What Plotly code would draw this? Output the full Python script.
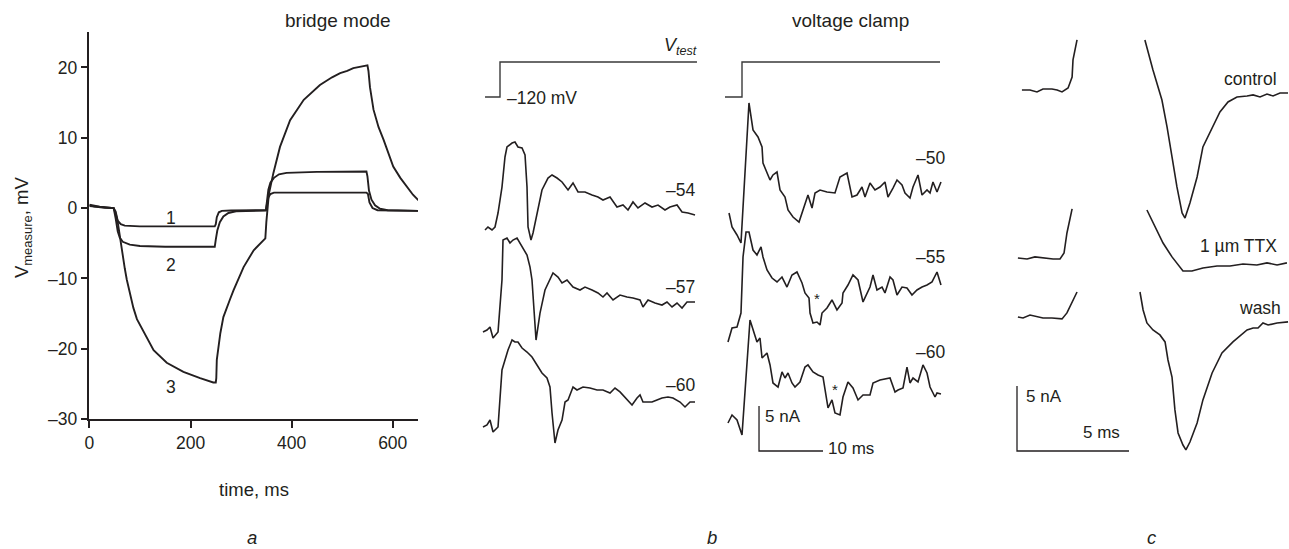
import plotly.graph_objects as go

W, H = 1289, 549
INK = "#231f20"
FONT = "Liberation Sans, Arial, Helvetica, sans-serif"

# ---------------- panel a : bridge mode (time ms, V mV) ----------------
a_t1 = [0, 10, 30, 48, 52, 56, 62, 70, 100, 248, 250, 252, 256, 262, 280, 349, 351, 354, 358, 365, 548, 551, 554, 560, 570, 650]
a_v1 = [0.4, 0.2, 0.05, 0.0, -0.8, -1.8, -2.3, -2.5, -2.6, -2.6, -2.3, -1.3, -0.6, -0.4, -0.35, -0.3, 0.5, 1.5, 2.0, 2.2, 2.2, 2.0, 0.8, 0.0, -0.3, -0.4]
a_t2 = [0, 48, 52, 56, 60, 66, 80, 100, 150, 248, 250, 253, 258, 265, 275, 290, 349, 351, 354, 358, 365, 375, 390, 450, 548, 550, 553, 558, 565, 575, 590, 650]
a_v2 = [0.3, 0.0, -1.5, -3.3, -4.2, -4.8, -5.2, -5.4, -5.5, -5.5, -4.5, -3.2, -2.0, -1.2, -0.7, -0.45, -0.35, 1.0, 2.6, 3.6, 4.3, 4.8, 5.0, 5.15, 5.2, 4.5, 2.5, 1.2, 0.4, -0.1, -0.3, -0.4]
a_t3 = [0, 20, 48, 52, 55, 58, 61, 66, 70, 74, 80, 87, 94, 109, 127, 153, 186, 219, 245, 250, 251, 252, 255, 259, 265, 272, 278, 285, 305, 325, 340, 348, 350, 352, 355, 364, 377, 397, 424, 456, 480, 496, 510, 522, 540, 550, 552, 555, 562, 572, 582, 601, 615, 628, 640, 651]
a_v3 = [0.5, 0.2, 0.0, -0.5, -1.5, -3.0, -4.5, -7.0, -8.6, -10.2, -12.0, -14.2, -15.8, -17.8, -20.2, -22.0, -23.3, -24.2, -24.8, -24.8, -24.2, -21.6, -20.0, -17.8, -15.5, -14.0, -13.0, -11.7, -8.4, -6.0, -4.9, -4.3, -2.0, -0.3, 2.0, 5.0, 8.7, 12.5, 15.4, 17.5, 18.6, 19.2, 19.5, 19.9, 20.2, 20.3, 19.5, 17.2, 14.0, 11.5, 9.7, 5.9, 4.3, 3.0, 1.9, 1.1]
a_xticks = [0, 200, 400, 600]
a_yticks = [-30, -20, -10, 0, 10, 20]
a_curve_labels = ["1", "2", "3"]
a_label_t = [162, 162, 162]
a_label_v = [-1.4, -8.1, -25.5]

# ---------------- panel b : traces (time ms from step, current nA) ----------------
b_step_t_left = [-2.34, 0, 0, 30.78]
b_step_t_right = [-2.66, 0, 0, 30.94]
b_step_level = [0, 0, 1, 1]

bL54_t = [-2.34, -1.88, -1.25, -0.78, -0.31, 0.31, 0.78, 1.09, 1.88, 2.34, 2.81, 3.44, 3.91, 4.22, 4.38, 4.84, 5.16, 5.78, 6.56, 7.5, 8.13, 8.91, 9.69, 10.63, 11.41, 12.19, 13.28, 14.38, 15.31, 16.09, 17.19, 18.28, 19.22, 20.0, 20.78, 21.56, 22.66, 23.75, 24.69, 25.78, 26.56, 27.66, 28.44, 29.38, 30.47]
bL54_i = [-0.44, -0.11, -0.44, -0.11, 1.44, 4.33, 7.67, 8.78, 9.22, 9.33, 8.78, 8.67, 7.89, 4.33, -0.11, -1.56, -0.78, 1.44, 4.0, 5.33, 5.67, 5.33, 4.89, 4.0, 4.78, 3.78, 3.78, 3.44, 3.22, 2.89, 3.22, 2.11, 2.33, 1.78, 2.67, 2.0, 2.56, 2.11, 2.33, 1.78, 2.11, 2.33, 1.56, 1.44, 1.22]
bL57_t = [-2.66, -2.03, -1.56, -1.09, -0.31, 0.31, 0.47, 1.09, 1.56, 2.03, 2.66, 3.44, 4.22, 4.69, 5.0, 5.63, 6.25, 7.03, 7.81, 8.28, 9.06, 9.69, 10.47, 11.41, 12.5, 13.28, 14.38, 15.31, 16.09, 16.72, 17.66, 18.75, 19.84, 20.78, 21.88, 22.34, 23.13, 24.22, 25.31, 26.09, 26.88, 27.66, 28.44, 29.22, 30.47]
bL57_i = [0.22, 0.44, 0.78, -0.44, 0.22, 6.0, 10.44, 10.67, 10.11, 10.44, 10.67, 9.67, 8.78, 7.44, 6.0, -0.67, 2.33, 4.89, 6.0, 6.78, 6.33, 5.67, 6.0, 5.22, 4.89, 5.22, 4.89, 4.56, 4.11, 4.56, 3.78, 4.33, 4.11, 4.0, 3.78, 3.0, 3.78, 3.44, 3.22, 3.56, 3.0, 3.44, 2.89, 3.56, 3.56]
bL60_t = [-2.66, -2.03, -1.56, -1.09, -0.31, 0.31, 0.78, 1.25, 1.88, 2.34, 2.81, 3.44, 4.22, 5.0, 5.78, 6.56, 7.34, 7.81, 8.13, 8.59, 9.06, 9.69, 10.16, 10.63, 11.41, 12.03, 12.97, 14.06, 15.16, 16.09, 17.19, 17.97, 18.75, 19.53, 20.63, 21.41, 21.88, 22.34, 23.75, 24.53, 25.31, 26.25, 27.03, 28.13, 28.91, 29.69, 30.47]
bL60_i = [-0.33, -0.11, 0.44, -0.89, -0.33, 6.0, 7.11, 8.22, 9.33, 9.11, 9.11, 8.44, 8.0, 7.44, 6.56, 5.67, 5.11, 4.11, 1.22, -2.11, -0.67, 0.44, 2.44, 2.67, 4.11, 3.78, 4.11, 4.0, 3.78, 3.78, 3.44, 4.0, 3.56, 3.0, 2.11, 2.89, 3.22, 2.44, 2.44, 2.67, 2.89, 3.0, 2.89, 2.44, 1.89, 2.44, 2.44]

bR50_t = [-2.03, -1.56, -0.78, -0.16, 1.09, 1.72, 2.5, 3.13, 3.28, 3.91, 4.38, 4.84, 5.47, 5.94, 6.72, 7.19, 7.97, 8.91, 9.53, 10.31, 10.94, 11.41, 12.19, 13.28, 14.53, 15.31, 16.41, 17.19, 17.97, 18.75, 19.22, 20.0, 20.78, 21.56, 22.34, 22.81, 23.59, 24.22, 25.0, 25.47, 26.25, 26.72, 27.5, 28.13, 28.91, 29.38, 29.84, 30.47, 31.09]
bR50_i = [0.44, -1.11, -2.0, -2.89, 12.67, 9.67, 8.89, 7.78, 6.0, 4.89, 4.11, 4.67, 5.0, 3.0, 2.22, 0.78, 0.0, -0.56, 0.78, 2.44, 1.0, 2.67, 3.0, 2.78, 2.67, 4.44, 4.89, 2.22, 2.44, 3.33, 2.22, 3.78, 3.0, 3.33, 3.89, 2.22, 3.22, 4.11, 3.56, 2.67, 2.11, 3.33, 4.67, 2.44, 3.0, 2.67, 3.89, 2.78, 3.89]
bR55_t = [-2.19, -1.56, -0.78, -0.16, 0.16, 0.63, 1.09, 1.72, 2.34, 2.97, 3.28, 3.91, 4.69, 5.47, 6.25, 7.03, 7.81, 8.59, 9.38, 9.84, 10.47, 10.63, 11.09, 11.72, 12.19, 12.5, 13.28, 14.06, 14.84, 15.63, 15.78, 16.56, 17.34, 18.13, 18.91, 19.53, 20.0, 20.47, 21.09, 21.88, 22.34, 23.13, 23.59, 24.22, 25.0, 25.78, 26.56, 27.34, 28.13, 28.91, 29.69, 30.47, 31.09]
bR55_i = [-1.89, -0.33, -0.22, 1.33, 7.56, 10.33, 10.33, 8.33, 7.78, 8.67, 7.56, 6.11, 5.22, 4.78, 5.33, 4.22, 5.56, 5.89, 4.67, 3.56, 3.0, 1.33, 0.22, 0.33, 0.0, 1.33, 1.89, 2.78, 1.67, 2.44, 3.56, 4.44, 5.56, 5.0, 2.56, 3.56, 4.22, 5.56, 3.89, 4.22, 3.56, 5.33, 5.0, 3.33, 4.22, 4.11, 3.33, 3.89, 4.22, 4.44, 4.78, 5.89, 4.44]
bR60_t = [-2.19, -1.56, -0.78, 0.0, 1.25, 1.72, 2.34, 2.81, 3.13, 3.91, 4.38, 4.84, 5.63, 6.25, 6.72, 7.19, 7.81, 8.28, 9.06, 9.84, 10.31, 11.09, 11.88, 12.66, 13.44, 14.06, 14.53, 15.31, 15.78, 16.56, 17.34, 18.13, 18.91, 20.0, 20.47, 21.56, 23.13, 23.91, 24.38, 25.16, 25.78, 26.25, 26.72, 27.5, 28.28, 28.91, 29.38, 30.16, 30.47, 31.09]
bR60_i = [-0.89, 0.0, -0.56, -2.22, 10.56, 9.44, 8.11, 8.56, 6.33, 6.89, 5.56, 3.56, 3.11, 4.78, 4.11, 4.67, 3.56, 3.11, 3.67, 5.33, 5.56, 4.78, 4.44, 4.22, 0.78, 1.67, 0.22, 0.0, 2.0, 3.67, 3.0, 1.67, 2.22, 2.22, 3.56, 3.89, 4.11, 2.56, 2.78, 3.0, 5.33, 3.56, 4.11, 3.67, 5.56, 4.67, 3.11, 2.0, 2.44, 2.33]

b_left_labels = ["\u201354", "\u201357", "\u201360"]
b_right_labels = ["\u201350", "\u201355", "\u201360"]

# ---------------- panel c : TTX (time ms, current nA) ----------------
cC_t1 = [0.22, 0.58, 0.89, 1.16, 1.56, 1.79, 2.01, 2.28, 2.46, 2.5, 2.68]
cC_i1 = [0, 0, -0.15, 0.08, 0.08, 0, -0.15, 0.15, 1.0, 2.31, 3.85]
cC_t2 = [5.71, 6.07, 6.47, 6.70, 6.92, 7.14, 7.37, 7.5, 7.72, 8.04, 8.30, 8.71, 9.06, 9.42, 9.82, 10.27, 10.54, 10.85, 11.16, 11.43, 11.74, 12.1]
cC_i2 = [3.85, 1.54, -0.77, -2.85, -5.15, -7.46, -9.46, -9.85, -8.69, -6.69, -4.38, -2.92, -1.69, -0.92, -0.54, -0.46, -0.38, -0.54, -0.31, -0.46, -0.23, -0.23]
cT_t1 = [0.04, 0.45, 0.80, 1.16, 1.61, 1.92, 2.10, 2.23, 2.46]
cT_i1 = [0, -0.08, 0.08, 0, -0.08, -0.08, 0.38, 1.92, 3.77]
cT_t2 = [5.80, 6.16, 6.52, 6.92, 7.28, 7.41, 7.81, 8.30, 8.93, 9.51, 10.09, 10.71, 11.16, 11.61, 12.05]
cT_i2 = [3.69, 2.38, 1.15, 0.08, -0.69, -1.0, -1.0, -0.77, -0.62, -0.62, -0.46, -0.54, -0.38, -0.54, -0.38]
cW_t1 = [0.04, 0.27, 0.58, 0.94, 1.16, 1.56, 2.01, 2.23, 2.5, 2.68]
cW_i1 = [0, -0.08, 0.15, 0, -0.08, -0.08, -0.15, 0.31, 1.31, 1.92]
cW_t2 = [5.49, 5.63, 5.80, 6.07, 6.38, 6.61, 6.74, 6.92, 7.05, 7.19, 7.41, 7.54, 7.72, 8.04, 8.30, 8.71, 9.15, 9.64, 10.27, 10.54, 10.76, 10.98, 11.21, 11.61, 12.1]
cW_i2 = [1.92, 0.54, -0.46, -1.0, -1.38, -1.92, -3.31, -4.62, -7.15, -8.92, -9.85, -10.23, -9.62, -8.15, -6.38, -4.31, -2.77, -1.92, -1.0, -0.85, -0.85, -0.46, -0.62, -0.46, -0.38]
c_labels = ["control", "1 \u00b5m TTX", "wash"]

# ---------------- layout constants (positions only) ----------------
def px_x(x):
    return x / W

def px_y(y):
    return 1 - y / H

# panel b stacking offsets (nA) and scale
bL_off = [25.0, 13.0, 3.0]
bR_off = [26.0, 14.0, 4.0]
b_step_base, b_step_h = 39.33, 3.89
c_off = [27.77, 14.85, 10.31]

fig = go.Figure()
line_a = dict(color=INK, width=1.9)
for t, v in [(a_t1, a_v1), (a_t2, a_v2), (a_t3, a_v3)]:
    fig.add_trace(go.Scatter(x=t, y=v, mode="lines", line=line_a, xaxis="x", yaxis="y", showlegend=False, hoverinfo="skip"))

line_b = dict(color=INK, width=1.6)
step_line = dict(color="#3a3a3a", width=1.4)
fig.add_trace(go.Scatter(x=b_step_t_left, y=[b_step_base + b_step_h * l for l in b_step_level], mode="lines", line=step_line, xaxis="x2", yaxis="y2", showlegend=False))
fig.add_trace(go.Scatter(x=b_step_t_right, y=[b_step_base + b_step_h * l for l in b_step_level], mode="lines", line=step_line, xaxis="x3", yaxis="y3", showlegend=False))
for (t, i), off in zip([(bL54_t, bL54_i), (bL57_t, bL57_i), (bL60_t, bL60_i)], bL_off):
    fig.add_trace(go.Scatter(x=t, y=[v + off for v in i], mode="lines", line=line_b, xaxis="x2", yaxis="y2", showlegend=False))
for (t, i), off in zip([(bR50_t, bR50_i), (bR55_t, bR55_i), (bR60_t, bR60_i)], bR_off):
    fig.add_trace(go.Scatter(x=t, y=[v + off for v in i], mode="lines", line=line_b, xaxis="x3", yaxis="y3", showlegend=False))
# b scale bar: 10 ms x 5 nA
fig.add_trace(go.Scatter(x=[2.66 + 10, 2.66, 2.66], y=[0, 0, 5], mode="lines", line=dict(color=INK, width=1.3), xaxis="x3", yaxis="y3", showlegend=False))

for segs, off in zip([[(cC_t1, cC_i1), (cC_t2, cC_i2)], [(cT_t1, cT_i1), (cT_t2, cT_i2)], [(cW_t1, cW_i1), (cW_t2, cW_i2)]], c_off):
    for t, i in segs:
        fig.add_trace(go.Scatter(x=t, y=[v + off for v in i], mode="lines", line=line_b, xaxis="x4", yaxis="y4", showlegend=False))
# c scale bar: 5 ms x 5 nA
fig.add_trace(go.Scatter(x=[5, 0, 0], y=[0, 0, 5], mode="lines", line=dict(color=INK, width=1.3), xaxis="x4", yaxis="y4", showlegend=False))

hidden = dict(visible=False, showgrid=False, zeroline=False)
fig.update_layout(
    width=W, height=H, autosize=False,
    margin=dict(l=0, r=0, t=0, b=0, pad=0, autoexpand=False),
    paper_bgcolor="white", plot_bgcolor="rgba(0,0,0,0)",
    font=dict(family=FONT, size=18, color=INK),
    showlegend=False,
    xaxis=dict(domain=[px_x(89.4), px_x(418)], range=[0, 650], tickvals=a_xticks,
               showline=True, linecolor=INK, linewidth=1.5, ticks="outside", ticklen=7, tickwidth=1.5, tickcolor=INK,
               showgrid=False, zeroline=False, tickfont=dict(size=17.5), anchor="y", automargin=False),
    yaxis=dict(domain=[px_y(419), px_y(32.3)], range=[-30, 25], tickvals=a_yticks,
               ticktext=[("\u2013" + str(-v)) if v < 0 else str(v) for v in a_yticks],
               showline=True, linecolor=INK, linewidth=1.5, ticks="outside", ticklen=7, tickwidth=1.5, tickcolor=INK,
               showgrid=False, zeroline=False, tickfont=dict(size=17.5), anchor="x", automargin=False),
    xaxis2=dict(domain=[px_x(475), px_x(705)], range=[(475 - 500) / 6.4, (705 - 500) / 6.4], anchor="y2", **hidden),
    yaxis2=dict(domain=[0, 1], range=[(451 - 549) / 9, 451 / 9], anchor="x2", **hidden),
    xaxis3=dict(domain=[px_x(715), px_x(950)], range=[(715 - 742) / 6.4, (950 - 742) / 6.4], anchor="y3", **hidden),
    yaxis3=dict(domain=[0, 1], range=[(451 - 549) / 9, 451 / 9], anchor="x3", **hidden),
    xaxis4=dict(domain=[px_x(1000), 1.0], range=[(1000 - 1017) / 22.4, (1289 - 1017) / 22.4], anchor="y4", **hidden),
    yaxis4=dict(domain=[0, 1], range=[(451 - 549) / 13, 451 / 13], anchor="x4", **hidden),
)

ann = []
def paper_text(text, x, y, size=18, xanchor="center", italic=False, angle=0):
    ann.append(dict(text=f"<i>{text}</i>" if italic else text, x=px_x(x), y=px_y(y), xref="paper", yref="paper",
                    xanchor=xanchor, yanchor="middle", showarrow=False, borderpad=0,
                    font=dict(size=size, color=INK), textangle=angle))

def data_text(text, x, y, xr, yr, size=18, xanchor="center"):
    ann.append(dict(text=text, x=x, y=y, xref=xr, yref=yr, xanchor=xanchor, yanchor="middle",
                    showarrow=False, borderpad=0, font=dict(size=size, color=INK)))

paper_text("bridge mode", 338, 20, size=19)
paper_text("voltage clamp", 850, 20, size=19)
paper_text("time, ms", 254, 489, size=18.5)
paper_text("V<sub>measure</sub>, mV", 23, 228, size=18.5, angle=-90)
paper_text("a", 252, 537, size=18.5, italic=True)
paper_text("b", 712, 537, size=18.5, italic=True)
paper_text("c", 1152, 537, size=18.5, italic=True)

for lab, t, v in zip(a_curve_labels, a_label_t, a_label_v):
    data_text(lab, t, v, "x", "y", size=17.5)

data_text("<i>V</i><sub><i>test</i></sub>", 30.94, 44.9, "x2", "y2", size=18, xanchor="right")
data_text("\u2013120 mV", 1.0, 39.22, "x2", "y2", size=17.5, xanchor="left")
for lab, y in zip(b_left_labels, [29.0, 18.22, 7.33]):
    data_text(lab, 30.6, y, "x2", "y2", size=17.5, xanchor="right")
for lab, y in zip(b_right_labels, [32.56, 21.56, 11.0]):
    data_text(lab, 31.8, y, "x3", "y3", size=17.5, xanchor="right")
data_text("*", 11.72, 16.9, "x3", "y3", size=15)
data_text("*", 14.53, 6.8, "x3", "y3", size=15)
data_text("5 nA", 3.5, 3.78, "x3", "y3", size=17, xanchor="left")
data_text("10 ms", 13.35, 0.33, "x3", "y3", size=17, xanchor="left")

for lab, y, xr in zip(c_labels, [28.62, 15.77, 11.0], [11.65, 11.65, 11.85]):
    data_text(lab, xr, y, "x4", "y4", size=17.5, xanchor="right")
data_text("5 nA", 0.35, 4.23, "x4", "y4", size=17, xanchor="left")
data_text("5 ms", 3.75, 1.46, "x4", "y4", size=17)

fig.update_layout(annotations=ann)
fig.write_html("out.html")
